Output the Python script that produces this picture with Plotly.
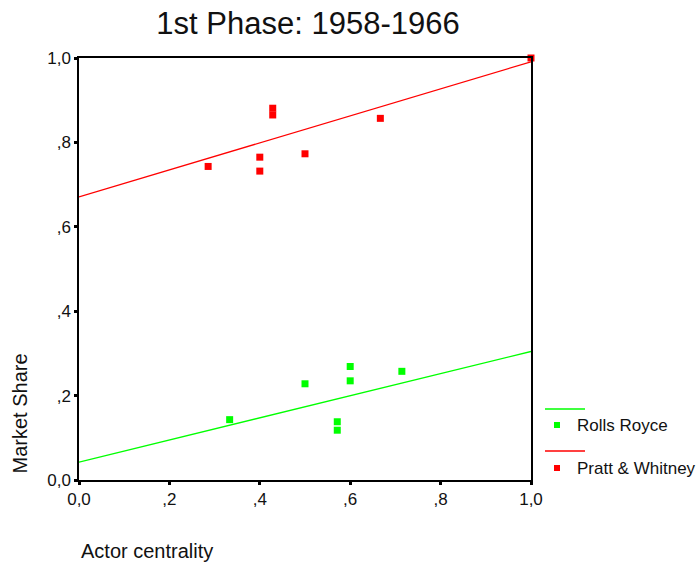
import numpy as np
import plotly.graph_objects as go

# ---- data ----
rr_x = [0.3333, 0.5, 0.6, 0.6, 0.7143, 0.5714, 0.5714]
rr_y = [0.143, 0.228, 0.269, 0.235, 0.2575, 0.138, 0.118]
pw_x = [0.2857, 0.4, 0.4, 0.4286, 0.4286, 0.5, 0.6667, 1.0]
pw_y = [0.743, 0.765, 0.732, 0.881, 0.865, 0.773, 0.857, 1.0]
rr_fit_intercept = 0.0425
rr_fit_slope = 0.262
pw_fit_intercept = 0.671
pw_fit_slope = 0.320
tick_vals = [0.0, 0.2, 0.4, 0.6, 0.8, 1.0]
tick_text = ["0,0", ",2", ",4", ",6", ",8", "1,0"]
axis_range = [0.0, 1.0]
legend_labels = ["Rolls Royce", "Pratt & Whitney"]

GREEN = "#00ff00"
RED = "#ff0000"
FONT = "Liberation Sans, Arial, sans-serif"

L, R, T, B, W, H = 79, 169, 58, 90, 700, 570
PW, PH = W - L - R, H - T - B


def px_x(x):
    return (x - L) / PW


def px_y(y):
    return (H - B - y) / PH


x_fit = np.array(axis_range)

fig = go.Figure()
fig.add_trace(go.Scatter(x=x_fit, y=rr_fit_intercept + rr_fit_slope * x_fit,
                         mode="lines", line=dict(color=GREEN, width=1.3),
                         showlegend=False, hoverinfo="skip"))
fig.add_trace(go.Scatter(x=rr_x, y=rr_y, mode="markers", cliponaxis=False,
                         marker=dict(symbol="square", size=7, color=GREEN),
                         name=legend_labels[0], showlegend=False))
fig.add_trace(go.Scatter(x=x_fit, y=pw_fit_intercept + pw_fit_slope * x_fit,
                         mode="lines", line=dict(color=RED, width=1.3),
                         showlegend=False, hoverinfo="skip"))
fig.add_trace(go.Scatter(x=pw_x, y=pw_y, mode="markers", cliponaxis=False,
                         marker=dict(symbol="square", size=7, color=RED),
                         name=legend_labels[1], showlegend=False))

axis_common = dict(
    range=axis_range, tickvals=tick_vals, ticktext=tick_text,
    showgrid=False, zeroline=False, showline=True, linecolor="black",
    linewidth=1.5, mirror=True, ticks="outside", ticklen=3, tickwidth=3,
    tickcolor="black", tickfont=dict(family=FONT, size=17, color="#111111"),
)
fig.update_xaxes(**axis_common)
fig.update_yaxes(**axis_common)

# manual legend (line sample, marker sample + label) per series
shapes = []
annotations = []
legend_items = [(GREEN, legend_labels[0], 409, 425), (RED, legend_labels[1], 451, 468)]
for color, label, y_line, y_mark in legend_items:
    shapes.append(dict(type="line", xref="paper", yref="paper",
                       x0=px_x(545), x1=px_x(585), y0=px_y(y_line), y1=px_y(y_line),
                       line=dict(color=color, width=1.3)))
    shapes.append(dict(type="rect", xref="paper", yref="paper",
                       x0=px_x(554), x1=px_x(560), y0=px_y(y_mark + 3), y1=px_y(y_mark - 3),
                       fillcolor=color, line=dict(width=0)))
    annotations.append(dict(text=label, xref="paper", yref="paper",
                            x=px_x(575), y=px_y(y_mark), xanchor="left", yanchor="middle",
                            showarrow=False, font=dict(family=FONT, size=17, color="#111111")))

annotations += [
    dict(text="Market Share", xref="paper", yref="paper", x=px_x(19.5), y=px_y(413),
         xanchor="center", yanchor="middle", textangle=-90, showarrow=False,
         font=dict(family=FONT, size=20, color="#111111")),
    dict(text="Actor centrality", xref="paper", yref="paper", x=px_x(79), y=px_y(551),
         xanchor="left", yanchor="middle", showarrow=False,
         font=dict(family=FONT, size=20, color="#111111")),
]

fig.update_layout(
    width=W, height=H,
    margin=dict(l=L, r=R, t=T, b=B, autoexpand=False),
    paper_bgcolor="white", plot_bgcolor="white",
    font=dict(family=FONT, color="#111111"),
    showlegend=False,
    title=dict(text="1st Phase: 1958-1966", x=px_x(308), xref="paper",
               xanchor="center", y=1 - 23 / H, yanchor="middle",
               font=dict(family=FONT, size=31, color="#111111")),
    shapes=shapes,
    annotations=annotations,
)

fig.write_html("out.html")
